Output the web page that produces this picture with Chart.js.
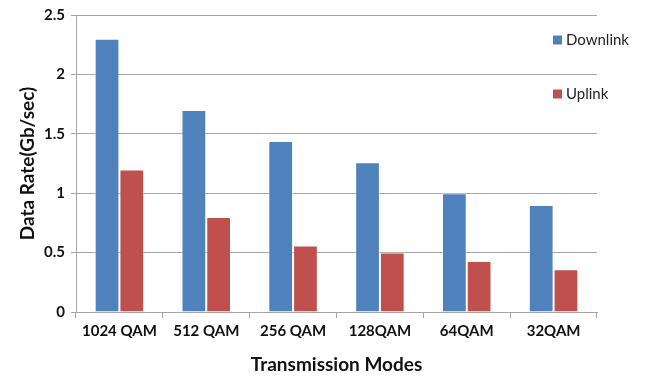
<!DOCTYPE html>
<html>
<head>
<meta charset="utf-8">
<script src="https://cdn.jsdelivr.net/npm/chart.js@4/dist/chart.umd.min.js"></script>
<style>
  html, body { margin: 0; padding: 0; background: #fff; }
  #wrap { width: 645px; height: 378px; position: relative; }
</style>
</head>
<body>
<div id="wrap"><canvas id="chart"></canvas></div>
<script>
// ---- data ----
const modes = ["1024 QAM", "512 QAM", "256 QAM", "128QAM", "64QAM", "32QAM"];
const downlink = [2.3, 1.7, 1.44, 1.26, 1.0, 0.9];
const uplink = [1.2, 0.8, 0.56, 0.5, 0.43, 0.36];
const seriesNames = ["Downlink", "Uplink"];

const BLUE = "#4f81bd";
const RED = "#c0504d";
const GRID = "#a6a6a6";
const FONT = "Lato, 'Open Sans', sans-serif";

// legend sits inside the plot, on the right, like the office chart
const insideLegend = {
    id: "insideLegend",
    afterDraw(chart) {
        const { ctx } = chart;
        const items = [[seriesNames[0], BLUE, 40], [seriesNames[1], RED, 94]];
        ctx.save();
        ctx.font = "15px " + FONT;
        ctx.textBaseline = "middle";
        items.forEach(([name, color, y]) => {
            ctx.fillStyle = color;
            ctx.fillRect(553, y - 4.5, 9, 9);
            ctx.fillStyle = "#222";
            ctx.fillText(name, 566, y);
        });
        ctx.restore();
    }
};

new Chart(document.getElementById("chart"), {
    type: "bar",
    data: {
        labels: modes,
        datasets: [
            { label: seriesNames[0], data: downlink, backgroundColor: BLUE,
              borderColor: "rgba(255,255,255,0.5)", borderWidth: 1 },
            { label: seriesNames[1], data: uplink, backgroundColor: RED,
              borderColor: "rgba(255,255,255,0.5)", borderWidth: 1 }
        ]
    },
    options: {
        responsive: true,
        maintainAspectRatio: false,
        animation: false,
        layout: { padding: { left: 16, right: 48, top: 8, bottom: 2 } },
        datasets: { bar: { barPercentage: 1, categoryPercentage: 0.57 } },
        plugins: {
            legend: { display: false },
            tooltip: { enabled: false }
        },
        scales: {
            x: {
                grid: { drawOnChartArea: false, drawTicks: true, tickLength: 6, offset: true, color: GRID },
                border: { color: GRID, width: 1 },
                ticks: { color: "#111", font: { family: FONT, size: 15, weight: "bold" }, padding: 4 },
                title: { display: true, text: "Transmission Modes", color: "#111",
                         font: { family: FONT, size: 19, weight: "bold" }, padding: { top: 4, bottom: 0 } },
                afterFit(scale) { scale.height = 64; }
            },
            y: {
                min: 0, max: 2.5,
                grid: { color: GRID, tickLength: 5 },
                border: { color: GRID, width: 1 },
                ticks: { stepSize: 0.5, color: "#111", font: { family: FONT, size: 15, weight: "bold" }, padding: 6,
                         callback: (v) => String(v) },
                title: { display: true, text: "Data Rate(Gb/sec)", color: "#111",
                         font: { family: FONT, size: 19, weight: "bold" }, padding: { top: 0, bottom: 2 } },
                afterFit(scale) { scale.width = 60; }
            }
        }
    },
    plugins: [insideLegend]
});
</script>
</body>
</html>
